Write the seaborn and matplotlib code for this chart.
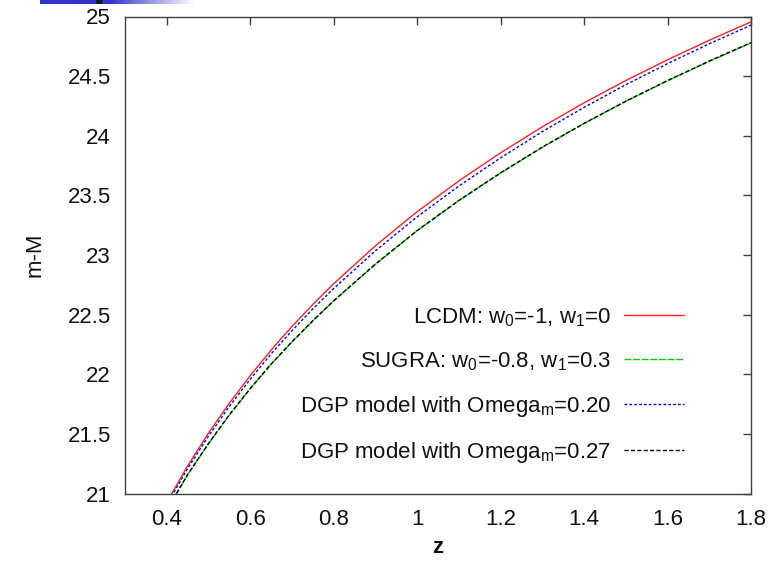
import numpy as np
import pandas as pd
import matplotlib
matplotlib.use("Agg")
import matplotlib.pyplot as plt
from matplotlib.ticker import FormatStrFormatter
import seaborn as sns

# Distance modulus m-M versus redshift for four dark-energy / DGP models
z = [0.4, 0.45, 0.5, 0.55, 0.6, 0.65, 0.7, 0.75, 0.8, 0.9, 1.0,
     1.1, 1.2, 1.3, 1.4, 1.5, 1.6, 1.7, 1.8]
lcdm = [20.925, 21.231, 21.506, 21.757, 21.988, 22.202, 22.400, 22.585, 22.759,
        23.077, 23.363, 23.621, 23.857, 24.075, 24.276, 24.463, 24.637, 24.801, 24.955]
sugra = [20.860, 21.156, 21.416, 21.657, 21.878, 22.082, 22.270, 22.447, 22.614,
         22.922, 23.203, 23.456, 23.687, 23.903, 24.102, 24.288, 24.461, 24.624, 24.778]
dgp_020 = [20.905, 21.209, 21.481, 21.730, 21.958, 22.170, 22.365, 22.548, 22.719,
           23.035, 23.320, 23.578, 23.815, 24.035, 24.238, 24.428, 24.605, 24.771, 24.928]
dgp_027 = [20.862, 21.158, 21.419, 21.660, 21.880, 22.085, 22.272, 22.449, 22.616,
           22.924, 23.205, 23.458, 23.689, 23.905, 24.104, 24.290, 24.463, 24.626, 24.781]

labels = ["LCDM: w$_0$=-1, w$_1$=0",
          "SUGRA: w$_0$=-0.8, w$_1$=0.3",
          "DGP model with Omega$_m$=0.20",
          "DGP model with Omega$_m$=0.27"]
x_ticks = [0.4, 0.6, 0.8, 1.0, 1.2, 1.4, 1.6, 1.8]
y_ticks = [21, 21.5, 22, 22.5, 23, 23.5, 24, 24.5, 25]

sns.set_style("white")
plt.rcParams["font.family"] = ["Liberation Sans", "DejaVu Sans"]
plt.rcParams["mathtext.default"] = "regular"
plt.rcParams["font.size"] = 16
for key in ("text.color", "axes.labelcolor", "xtick.labelcolor", "ytick.labelcolor"):
    plt.rcParams[key] = "#111111"

fig = plt.figure(figsize=(7.68, 5.62), dpi=100)
ax = fig.add_axes([125 / 768, 1 - 493.5 / 562, 626 / 768, 477 / 562])

styles = [
    (lcdm, "#ff2020", None),
    (sugra, "#00d000", (5, 1.2)),
    (dgp_020, "#0000ff", (2, 1.5)),
    (dgp_027, "#000000", (3, 1.6)),
]
for (vals, color, dash), lab in zip(styles, labels):
    df = pd.DataFrame({"z": z, "mM": vals})
    sns.lineplot(data=df, x="z", y="mM", ax=ax, color=color, lw=1.0,
                 label=lab, sort=False)
    if dash is not None:
        ax.lines[-1].set_dashes(dash)

ax.set_xlim(0.3, 1.8)
ax.set_ylim(21, 25)
ax.set_xticks(x_ticks)
ax.set_yticks(y_ticks)
ax.xaxis.set_major_formatter(FormatStrFormatter("%g"))
ax.yaxis.set_major_formatter(FormatStrFormatter("%g"))
ax.tick_params(direction="in", length=6, width=1, top=True, right=True,
               color="#404040", labelsize=16)
ax.tick_params(axis="y", pad=10)
ax.tick_params(axis="x", pad=11)
for sp in ax.spines.values():
    sp.set_color("#404040")
    sp.set_linewidth(1.0)

ax.set_xlabel("z", fontsize=16, fontweight="bold", labelpad=5)
ax.set_ylabel("m-M", fontsize=16, labelpad=16)

# markerfirst=False right-aligns each label against its line sample
leg = ax.legend(loc="lower right", bbox_to_anchor=(0.91, 0.037),
                frameon=False, markerfirst=False, handlelength=2.7,
                handletextpad=0.55, labelspacing=0.95, borderpad=0,
                fontsize=16)

# slide header strip at the top-left corner
strip = fig.add_axes([40 / 768, 1 - 4 / 562, 155 / 768, 4 / 562])
grad = np.ones((1, 256, 3))
tpos = np.linspace(0, 1, 256)
fade = np.clip((tpos - 0.45) / 0.55, 0, 1)
grad[0, :, 0] = 0.2 + 0.8 * fade
grad[0, :, 1] = 0.2 + 0.8 * fade
grad[0, :, 2] = 0.8 + 0.2 * fade
grad[0, 93:103, :] = 0.1
strip.imshow(grad, aspect="auto")
strip.axis("off")

fig.savefig("out.png", dpi=100)
